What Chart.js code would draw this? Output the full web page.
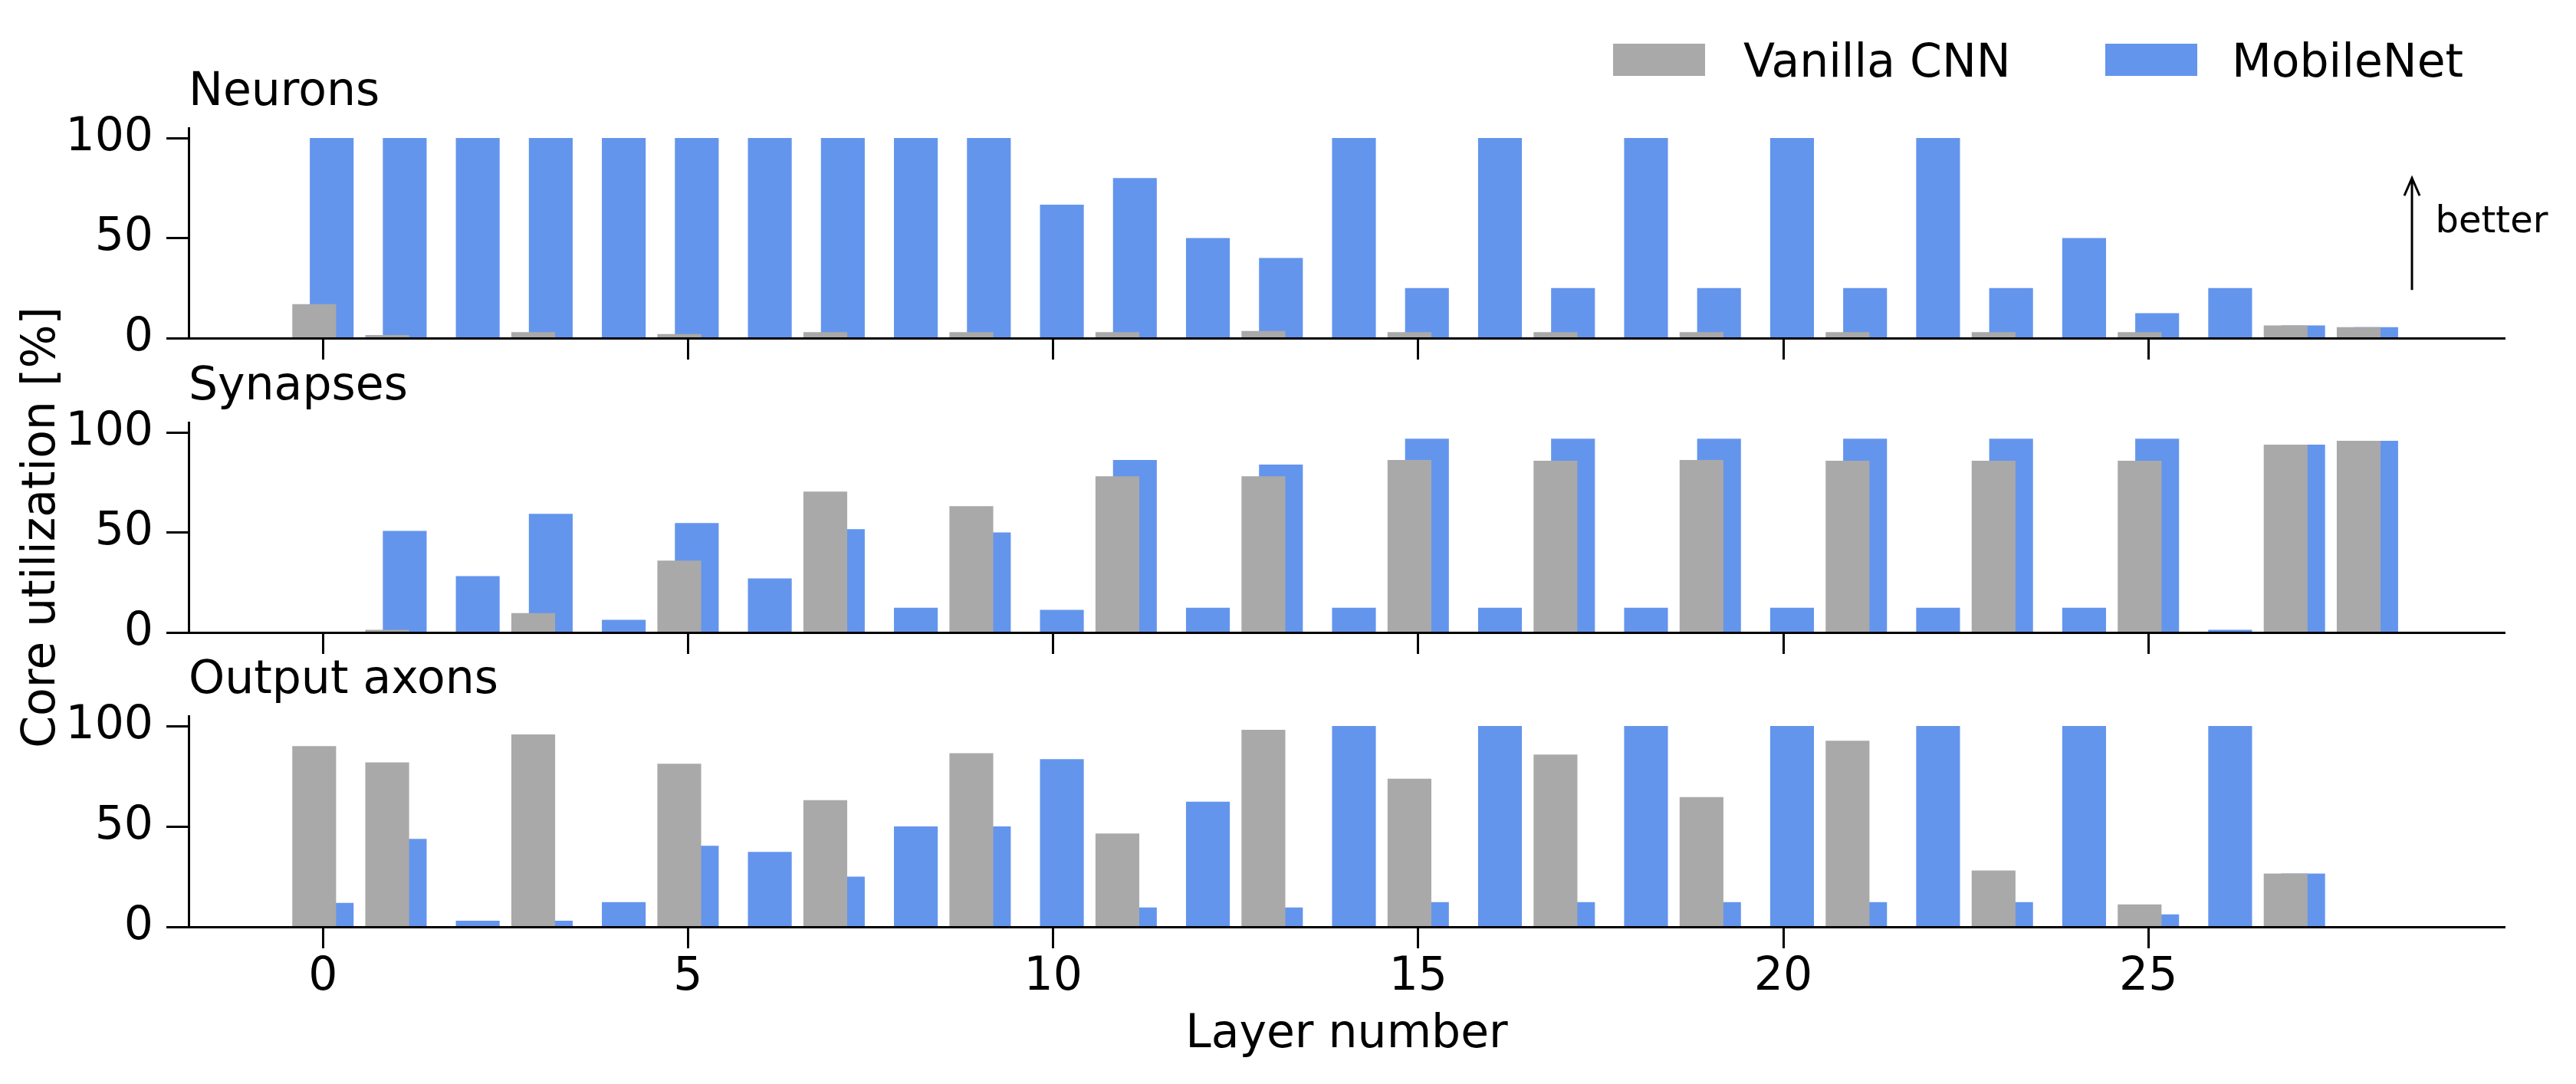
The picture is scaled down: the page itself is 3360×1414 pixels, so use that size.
<!DOCTYPE html>
<html lang="en">
<head>
    <meta charset="UTF-8">
    <title>Core utilization per layer</title>
    <script src="https://cdn.jsdelivr.net/npm/chart.js"></script>
    <style>
        body {
            margin: 0;
            background: #fff;
            font-family: "DejaVu Sans", sans-serif;
        }
        #page {
            position: relative;
            width: 3360px;
            height: 1414px;
        }
        canvas {
            position: absolute;
            left: 0;
            top: 0;
        }
        .legend-box {
            position: absolute;
            top: 57px;
            width: 120px;
            height: 42px;
        }
        .legend-text {
            position: absolute;
            top: 44px;
            font-size: 60px;
            line-height: 70px;
            color: #000;
            white-space: nowrap;
        }
    </style>
</head>
<body>
<div id="page">
    <canvas id="neurons" width="3360" height="1414"></canvas>
    <canvas id="synapses" width="3360" height="1414"></canvas>
    <canvas id="axons" width="3360" height="1414"></canvas>

    <!-- legend sits above the top panel -->
    <div class="legend-box" style="left:2104px; background:#a9a9a9"></div>
    <div class="legend-text" style="left:2274px">Vanilla CNN</div>
    <div class="legend-box" style="left:2746px; background:#6495ed"></div>
    <div class="legend-text" style="left:2911px">MobileNet</div>
</div>

<script>
    // layers and utilization values (%)
    const layers = [0, 1, 2, 3, 4, 5, 6, 7, 8, 9, 10, 11, 12, 13, 14,
                    15, 16, 17, 18, 19, 20, 21, 22, 23, 24, 25, 26, 27, 28];
    const xTicks = [0, 5, 10, 15, 20, 25];
    const yTicks = [0, 50, 100];

    const neuronsVanilla = [17, 1.5, 0, 3, 0, 2, 0, 3, 0, 3, 0, 3, 0, 3.5, 0,
                            3, 0, 3, 0, 3, 0, 3, 0, 3, 0, 3, 0, 6.3, 5.5];
    const neuronsMobile = [100, 100, 100, 100, 100, 100, 100, 100, 100, 100, 66.7, 80, 50, 40, 100,
                           25, 100, 25, 100, 25, 100, 25, 100, 25, 50, 12.5, 25, 6.3, 5.5];

    const synapsesVanilla = [0, 1.3, 0, 9.7, 0, 35.9, 0, 70.4, 0, 63.1, 0, 78.1, 0, 78.1, 0,
                             86.2, 0, 85.8, 0, 86.2, 0, 85.8, 0, 85.8, 0, 85.8, 0, 93.9, 95.8];
    const synapsesMobile = [0, 50.8, 28.2, 59.3, 6.3, 54.7, 27, 51.6, 12.4, 50, 11.3, 86.2, 12.4, 83.9, 12.4,
                            96.9, 12.4, 96.9, 12.4, 96.9, 12.4, 96.9, 12.4, 96.9, 12.4, 96.9, 1.3, 93.9, 95.8];

    const axonsVanilla = [90, 81.9, 0, 95.8, 0, 81.2, 0, 63.1, 0, 86.5, 0, 46.5, 0, 98.1, 0,
                          73.8, 0, 85.8, 0, 64.6, 0, 92.7, 0, 28.1, 0, 11.2, 0, 26.5, 0];
    const axonsMobile = [11.9, 43.8, 3.1, 3.1, 12.3, 40.4, 37.3, 25, 50, 50, 83.5, 9.6, 62.3, 9.6, 100,
                         12.3, 100, 12.3, 100, 12.3, 100, 12.3, 100, 12.3, 100, 6.2, 100, 26.5, 0];

    const GRAY = '#a9a9a9';
    const BLUE = '#6495ed';
    const X_MIN = -1.84;
    const X_MAX = 29.88;
    const SHIFT = 0.12; // vanilla bar left of the layer, mobilenet bar right of it

    Chart.defaults.font.family = '"DejaVu Sans"';
    Chart.defaults.font.size = 60;
    Chart.defaults.color = '#000';

    // the little "better" arrow in the top panel
    const betterArrow = {
        id: 'betterArrow',
        afterDatasetsDraw(chart, args, opts) {
            const {ctx, scales: {x, y}} = chart;
            const px = x.getPixelForValue(opts.x);
            const yTail = y.getPixelForValue(opts.from);
            const yTip = y.getPixelForValue(opts.to);
            ctx.save();
            ctx.strokeStyle = '#000';
            ctx.lineWidth = 3;
            ctx.beginPath();
            ctx.moveTo(px, yTail);
            ctx.lineTo(px, yTip);
            ctx.moveTo(px - 10, yTip + 23);
            ctx.lineTo(px, yTip);
            ctx.lineTo(px + 10, yTip + 23);
            ctx.stroke();
            ctx.font = '48px "DejaVu Sans"';
            ctx.fillStyle = '#000';
            ctx.textBaseline = 'alphabetic';
            ctx.fillText(opts.text, x.getPixelForValue(opts.textX), y.getPixelForValue(opts.textY));
            ctx.restore();
        }
    };

    function makePanel(id, title, vanilla, mobile, area, extra) {
        const isBottom = !!extra.bottomAxis;
        const xHeight = isBottom ? 1414 - area.bottom : 29;
        return new Chart(document.getElementById(id), {
            type: 'bar',
            data: {
                labels: layers,
                datasets: [
                    { label: 'Vanilla CNN', data: vanilla, backgroundColor: GRAY, xAxisID: 'xv' },
                    { label: 'MobileNet', data: mobile, backgroundColor: BLUE, xAxisID: 'xm' }
                ]
            },
            options: {
                responsive: false,
                animation: false,
                events: [],
                layout: {
                    padding: { top: area.top - 82, left: 0, right: 93, bottom: 1414 - area.bottom - xHeight }
                },
                datasets: {
                    // each series sits on its own shifted axis, so no grouping
                    bar: { grouped: false, barPercentage: 0.6, categoryPercentage: 1, borderWidth: 0 }
                },
                plugins: {
                    legend: { display: false },
                    tooltip: { enabled: false },
                    title: {
                        display: true,
                        text: title,
                        align: 'start',
                        fullSize: false,
                        color: '#000',
                        font: { size: 60, weight: 'normal' },
                        padding: { top: 0, bottom: 10 }
                    },
                    betterArrow: extra.arrow || {}
                },
                scales: {
                    x: {
                        type: 'linear',
                        min: X_MIN,
                        max: X_MAX,
                        offset: false,
                        afterBuildTicks: s => { s.ticks = xTicks.map(v => ({ value: v })); },
                        afterFit: s => { s.height = xHeight; },
                        grid: {
                            display: true, drawOnChartArea: false, offset: false,
                            color: '#000', tickColor: '#000', tickLength: 28, tickWidth: 3
                        },
                        border: { display: true, color: '#000', width: 3, z: 1 },
                        ticks: { display: isBottom, padding: 2, maxRotation: 0, autoSkip: false },
                        title: {
                            display: isBottom,
                            text: 'Layer number',
                            padding: { top: 0, bottom: 28 }
                        }
                    },
                    xv: { type: 'linear', display: false, offset: false, min: X_MIN + SHIFT, max: X_MAX + SHIFT },
                    xm: { type: 'linear', display: false, offset: false, min: X_MIN - SHIFT, max: X_MAX - SHIFT },
                    y: {
                        type: 'linear',
                        min: 0,
                        max: 105,
                        afterBuildTicks: s => { s.ticks = yTicks.map(v => ({ value: v })); },
                        afterFit: s => { s.width = 246; },
                        grid: {
                            display: true, drawOnChartArea: false,
                            color: '#000', tickColor: '#000', tickLength: 29, tickWidth: 3
                        },
                        border: { display: true, color: '#000', width: 3, z: 1 },
                        ticks: { padding: 17 },
                        title: {
                            display: !!extra.yTitle,
                            text: 'Core utilization [%]',
                            padding: { top: 19, bottom: 0 }
                        }
                    }
                }
            },
            plugins: extra.arrow ? [betterArrow] : []
        });
    }

    makePanel('neurons', 'Neurons', neuronsVanilla, neuronsMobile,
        { top: 167, bottom: 441 },
        { arrow: { x: 28.61, from: 24, to: 80, text: 'better', textX: 28.93, textY: 52.9 } });

    makePanel('synapses', 'Synapses', synapsesVanilla, synapsesMobile,
        { top: 551, bottom: 825 },
        { yTitle: true });

    makePanel('axons', 'Output axons', axonsVanilla, axonsMobile,
        { top: 934, bottom: 1209 },
        { bottomAxis: true });
</script>
</body>
</html>
